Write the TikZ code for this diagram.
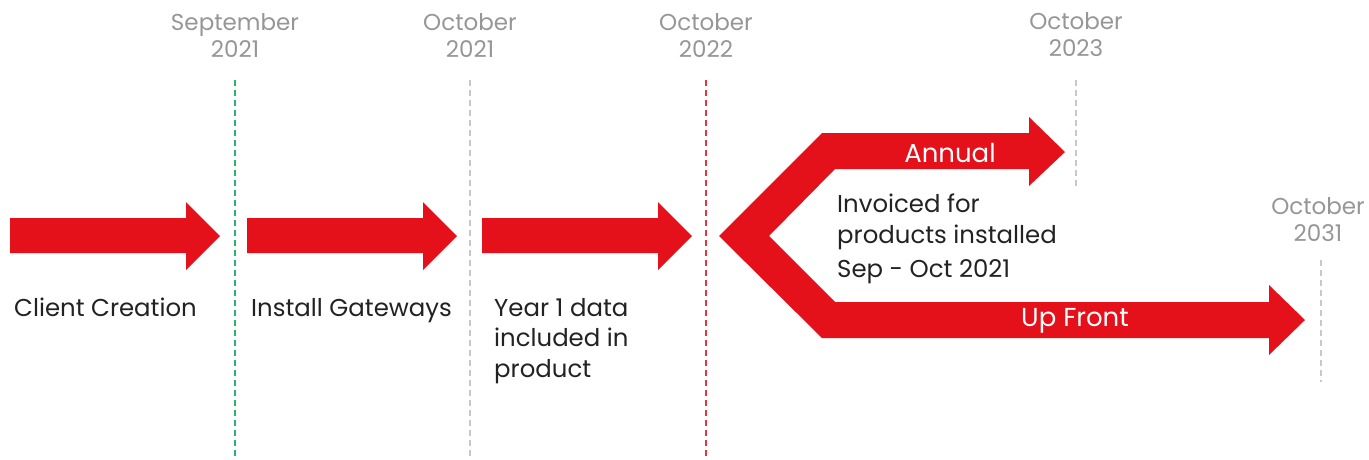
\documentclass[tikz,border=0pt]{standalone}
\usepackage{fontspec}
\setmainfont{Poppins}
\definecolor{myred}{RGB}{228,16,26}
\definecolor{txt}{RGB}{34,34,34}
\definecolor{datec}{RGB}{150,150,150}
\definecolor{dgreen}{RGB}{40,180,110}
\definecolor{dgray}{RGB}{200,200,200}
\definecolor{dred}{RGB}{232,52,60}
\begin{document}
\begin{tikzpicture}[x=1pt,y=-1pt,
  arr/.style={fill=myred, draw=none},
  lbl/.style={font=\fontsize{24.4}{30.5}\selectfont, text=txt, anchor=north west, inner sep=0pt, align=left},
  datelbl/.style={font=\fontsize{23}{27}\selectfont, text=datec, align=center, inner sep=0pt},
  wlbl/.style={font=\fontsize{26}{28}\selectfont, text=white, inner sep=0pt},
  vline/.style={line width=1.2pt, dash pattern=on 6pt off 4pt}]
\useasboundingbox (0,0) rectangle (1369,459);
% dashed lines
\coordinate (g1) at (235,80);  \coordinate (g2) at (235,459);
\coordinate (o1) at (470,80);  \coordinate (o2) at (470,459);
\coordinate (r1) at (706,80);  \coordinate (r2) at (706,459);
\coordinate (a1) at (1076,80); \coordinate (a2) at (1076,186);
\coordinate (b1) at (1321,260);\coordinate (b2) at (1321,382);
\draw[vline, dgreen] (g1) -- (g2);
\draw[vline, dgray] (o1) -- (o2);
\draw[vline, dred] (r1) -- (r2);
\draw[vline, dgray] (a1) -- (a2);
\draw[vline, dgray] (b1) -- (b2);
% arrows
\fill[arr] (10,218) -- (186,218) -- (186,202) -- (220,236) -- (186,270) -- (186,253) -- (10,253) -- cycle;
\fill[arr] (247,218) -- (423,218) -- (423,202) -- (457,236) -- (423,270) -- (423,253) -- (247,253) -- cycle;
\fill[arr] (482,218) -- (658,218) -- (658,202) -- (692,236) -- (658,270) -- (658,253) -- (482,253) -- cycle;
\fill[arr] (719,236) -- (822,133) -- (1029,133) -- (1029,117) -- (1065,152) -- (1029,186) -- (1029,169) -- (835,169)
  -- (769,236) -- (835,302) -- (1269,302) -- (1269,285) -- (1305,320) -- (1269,355) -- (1269,338) -- (822,338) -- cycle;
% date labels
\node[datelbl] (d1) at (235,35) {September\\2021};
\node[datelbl] (d2) at (470,35) {October\\2021};
\node[datelbl] (d3) at (706,35) {October\\2022};
\node[datelbl] (d4) at (1076,35) {October\\2023};
\node[datelbl] (d5) at (1318,220) {October\\2031};
% white labels
\node[wlbl] (ann) at (950,153) {Annual};
\node[wlbl] (upf) at (1075,321) {Up Front};
% text labels
\node[lbl] (t1) at (14,298) {Client Creation};
\node[lbl] (t2) at (251,298) {Install Gateways};
\node[lbl] (t3) at (494,298) {Year 1 data\\included in\\product};
\node[lbl] (t4) at (837,194) {Invoiced for\\products installed\\[4pt]Sep - Oct 2021};
\end{tikzpicture}
\end{document}
